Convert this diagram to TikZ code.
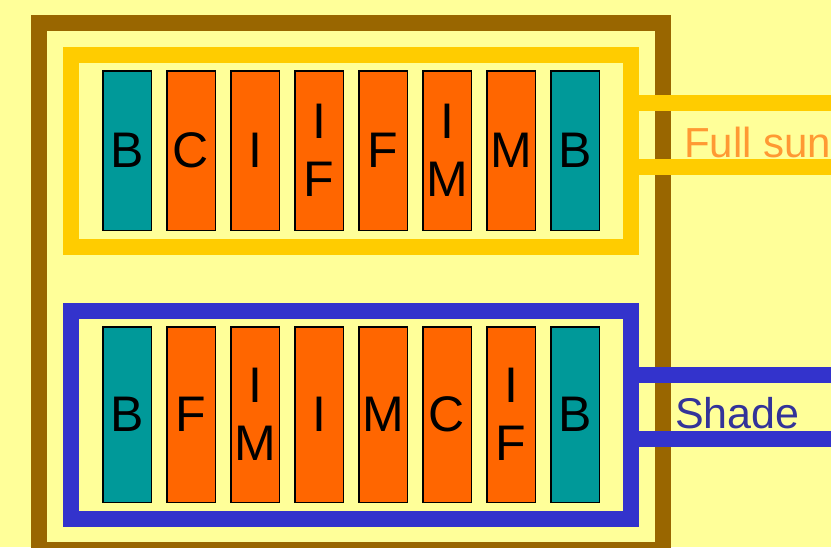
\documentclass[tikz,border=0pt]{standalone}
\usepackage{fontspec}
\setmainfont{Liberation Sans}
\usetikzlibrary{positioning}
\definecolor{paleyellow}{RGB}{255,255,153}
\definecolor{framebrown}{RGB}{153,102,0}
\definecolor{sungold}{RGB}{255,204,0}
\definecolor{shadeblue}{RGB}{51,51,204}
\definecolor{bedteal}{RGB}{0,153,153}
\definecolor{bedorange}{RGB}{255,102,0}
\definecolor{suntext}{RGB}{255,153,51}
\definecolor{shadetext}{RGB}{51,51,153}

\tikzset{
  bed/.style={draw=black, line width=1.5pt, minimum width=48.5pt,
              inner sep=0pt, align=center, font=\fontsize{50}{58}\selectfont},
  edgebed/.style={bed, fill=bedteal},
  midbed/.style={bed, fill=bedorange},
  sunbed/.style={minimum height=159.5pt},
  shadebed/.style={minimum height=175.5pt},
  band/.style={line width=16pt}
}

\begin{document}
\begin{tikzpicture}[x=1pt,y=-1pt]
  \useasboundingbox (0,0) rectangle (831,547);
  \fill[paleyellow] (0,0) rectangle (831,547);
  % Garden frame
  \draw[framebrown,band] (39,23) rectangle (663,550);
  % Sunny and shaded plots
  \draw[sungold,band] (71,55) rectangle (631,247);
  \draw[shadeblue,band] (71,311) rectangle (631,519);
  \draw[sungold,band] (639,103) -- (831,103);
  \draw[sungold,band] (639,167) -- (831,167);
  \draw[shadeblue,band] (639,375) -- (831,375);
  \draw[shadeblue,band] (639,439) -- (831,439);
  % Full sun row
  \node[edgebed,sunbed] (sun1) at (127,150.5) {B};
  \node[midbed,sunbed,right=14pt of sun1] (sun2) {C};
  \node[midbed,sunbed,right=14pt of sun2] (sun3) {I};
  \node[midbed,sunbed,right=14pt of sun3] (sun4) {I\\F};
  \node[midbed,sunbed,right=14pt of sun4] (sun5) {F};
  \node[midbed,sunbed,right=14pt of sun5] (sun6) {I\\M};
  \node[midbed,sunbed,right=14pt of sun6] (sun7) {M};
  \node[edgebed,sunbed,right=14pt of sun7] (sun8) {B};
  % Shade row
  \node[edgebed,shadebed] (shade1) at (127,414.5) {B};
  \node[midbed,shadebed,right=14pt of shade1] (shade2) {F};
  \node[midbed,shadebed,right=14pt of shade2] (shade3) {I\\M};
  \node[midbed,shadebed,right=14pt of shade3] (shade4) {I};
  \node[midbed,shadebed,right=14pt of shade4] (shade5) {M};
  \node[midbed,shadebed,right=14pt of shade5] (shade6) {C};
  \node[midbed,shadebed,right=14pt of shade6] (shade7) {I\\F};
  \node[edgebed,shadebed,right=14pt of shade7] (shade8) {B};
  % Labels
  \node[anchor=base west,inner sep=0pt,text=suntext,
        font=\fontsize{42}{50}\selectfont] (sunname) at (684,157) {Full sun};
  \node[anchor=base west,inner sep=0pt,text=shadetext,
        font=\fontsize{43}{50}\selectfont] (shadename) at (675,428) {Shade};
\end{tikzpicture}
\end{document}
